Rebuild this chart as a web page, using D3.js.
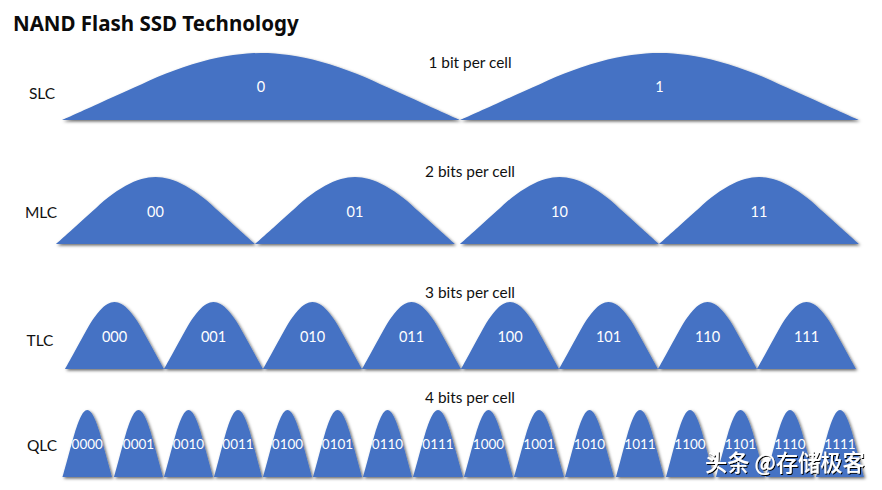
<!DOCTYPE html>
<html lang="en">
<head>
    <meta charset="UTF-8">
    <title>NAND Flash SSD Technology</title>
    <script src="https://d3js.org/d3.v7.min.js"></script>
    <style>
        html, body { margin: 0; padding: 0; background: #fff; }
        svg { display: block; }
        text { font-family: Lato, "Open Sans", sans-serif; }
    </style>
</head>
<body>
    <svg width="882" height="490"></svg>
    <script>
        const width = 882, height = 490;

        // Technology names and what each one stores
        const techNames = ["SLC", "MLC", "TLC", "QLC"];
        const bitsLabels = ["1 bit per cell", "2 bits per cell", "3 bits per cell", "4 bits per cell"];

        // State labels per technology
        const slcStates = ["0", "1"];
        const mlcStates = ["00", "01", "10", "11"];
        const tlcStates = ["000", "001", "010", "011", "100", "101", "110", "111"];
        const qlcStates = ["0000", "0001", "0010", "0011", "0100", "0101", "0110", "0111",
                           "1000", "1001", "1010", "1011", "1100", "1101", "1110", "1111"];

        // Left and right foot of each bump
        const slcStart = [62, 460];
        const slcEnd = [460, 859];
        const mlcStart = [56, 255, 460, 659];
        const mlcEnd = [255, 455, 659, 859];
        const tlcStart = [65, 164, 263, 362, 461, 559, 658, 757];
        const tlcEnd = [164, 263, 362, 461, 559, 658, 757, 856];
        const qlcStart = [62.5, 114, 164, 214, 263, 313, 363, 413, 464, 514, 565, 616, 666, 716, 766, 816];
        const qlcEnd = [112, 163, 213, 262, 312, 362, 412, 463, 513, 564, 614, 664, 714, 765, 814, 864];

        // Shape of one bump: position across its width and relative height
        const shapeT = [0, 0.09, 0.18, 0.26, 0.35, 0.43, 0.5, 0.57, 0.65, 0.74, 0.82, 0.91, 1];
        const shapeH = [0, 0.24, 0.48, 0.69, 0.87, 0.97, 1, 0.97, 0.87, 0.69, 0.48, 0.24, 0];

        const rows = [
            { states: slcStart.map((s, i) => [s, slcEnd[i], slcStates[i]]), base: 120, peak: 53, stateY: 87, nameX: 42, nameY: 94, bitsY: 63, size: 14.5 },
            { states: mlcStart.map((s, i) => [s, mlcEnd[i], mlcStates[i]]), base: 244, peak: 177, stateY: 212, nameX: 41, nameY: 213, bitsY: 172, size: 14.5 },
            { states: tlcStart.map((s, i) => [s, tlcEnd[i], tlcStates[i]]), base: 369, peak: 302, stateY: 337, nameX: 40, nameY: 341, bitsY: 293, size: 14.5 },
            { states: qlcStart.map((s, i) => [s, qlcEnd[i], qlcStates[i]]), base: 477, peak: 410, stateY: 444, nameX: 42, nameY: 446, bitsY: 398, size: 13.5 }
        ];

        const svg = d3.select("svg");
        svg.append("rect").attr("width", width).attr("height", height).attr("fill", "#fff");

        const defs = svg.append("defs");
        defs.append("filter").attr("id", "bumpShadow")
            .attr("x", "-10%").attr("y", "-10%").attr("width", "125%").attr("height", "125%")
            .append("feDropShadow")
            .attr("dx", 1.5).attr("dy", 1.5).attr("stdDeviation", 1.4)
            .attr("flood-color", "#000").attr("flood-opacity", 0.6);
        defs.append("filter").attr("id", "markShadow")
            .attr("x", "-10%").attr("y", "-20%").attr("width", "120%").attr("height", "140%")
            .append("feDropShadow")
            .attr("dx", 1).attr("dy", 1).attr("stdDeviation", 0.7)
            .attr("flood-color", "#000").attr("flood-opacity", 1);

        const x = d3.scaleLinear().domain([0, width]).range([0, width]);

        svg.append("text")
            .attr("x", 13).attr("y", 31)
            .attr("font-size", 20.5).attr("font-weight", 700).attr("fill", "#0b0b0b")
            .style("font-family", "'Noto Sans', sans-serif")
            .text("NAND Flash SSD Technology");

        rows.forEach((row, r) => {
            const y = d3.scaleLinear().domain([0, 1]).range([row.base, row.peak]);
            const g = svg.append("g");

            g.selectAll("path")
                .data(row.states)
                .enter()
                .append("path")
                .attr("fill", "#4472c4")
                .attr("filter", "url(#bumpShadow)")
                .attr("d", d => {
                    const w = d3.scaleLinear().domain([0, 1]).range([d[0], d[1]]);
                    return d3.area()
                        .x(t => x(w(t)))
                        .y0(y(0))
                        .y1((t, i) => y(shapeH[i]))
                        .curve(d3.curveCatmullRom.alpha(0.5))(shapeT);
                });

            g.selectAll("text.state")
                .data(row.states)
                .enter()
                .append("text")
                .attr("class", "state")
                .attr("x", d => x((d[0] + d[1]) / 2))
                .attr("y", row.stateY)
                .attr("dy", "0.35em")
                .attr("text-anchor", "middle")
                .attr("font-size", row.size)
                .attr("fill", "#fff")
                .text(d => d[2]);

            g.append("text")
                .attr("x", row.nameX).attr("y", row.nameY).attr("dy", "0.35em")
                .attr("text-anchor", "middle")
                .attr("font-size", 15.5).attr("fill", "#111")
                .text(techNames[r]);

            g.append("text")
                .attr("x", 470).attr("y", row.bitsY).attr("dy", "0.35em")
                .attr("text-anchor", "middle")
                .attr("font-size", 15.4).attr("fill", "#111")
                .text(bitsLabels[r]);
        });

        // Publisher watermark, bottom right
        svg.append("text")
            .attr("x", 705).attr("y", 471)
            .attr("font-size", 22.2).attr("font-weight", 500).attr("fill", "#fff")
            .attr("filter", "url(#markShadow)")
            .style("font-family", "'Noto Sans CJK SC', sans-serif")
            .text("头条 @存储极客");
    </script>
</body>
</html>
